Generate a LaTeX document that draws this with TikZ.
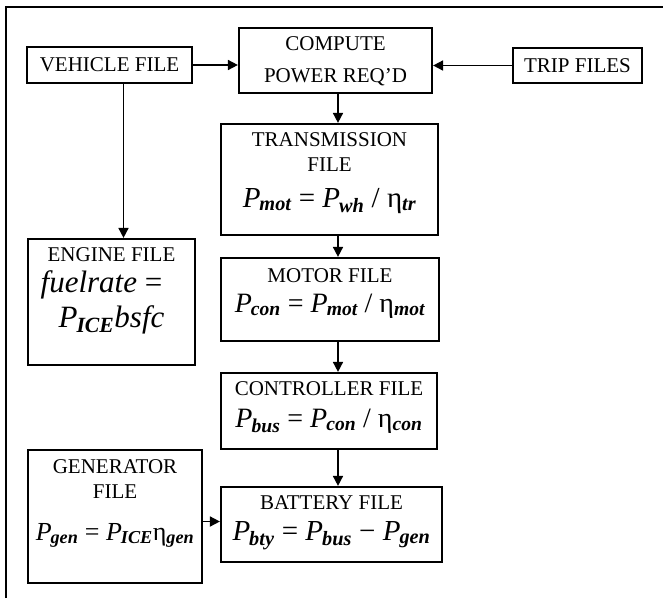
\documentclass[tikz,border=0pt]{standalone}
\usepackage{fontspec}
\setmainfont{Liberation Serif}
\usepackage{tikz}
\usetikzlibrary{arrows.meta,positioning,calc}

\newcommand{\sub}[1]{\textsubscript{\bfseries\itshape #1}}
\newcommand{\Pv}[1]{\textit{P}\kern-1pt\sub{#1}}
\newcommand{\eqsize}{\fontsize{29}{31}\selectfont}

\begin{document}
\begin{tikzpicture}[x=1pt,y=-1pt,
    file/.style={draw,line width=2.2pt,minimum width=#1,inner sep=0pt,align=center,
        font=\fontsize{21}{23}\selectfont},
    lines/.style={text depth=0pt,text height=#1},
    arr/.style={line width=1.7pt,-{Triangle[length=10pt,width=10pt]}},
    frame/.style={line width=2.7pt}
]
\useasboundingbox (0,0) rectangle (663,598);
\draw[frame] (6,598) -- (6,7) -- (663,7);

% top row
\node[file=165pt,minimum height=36pt] (vehicle) at (109.5,65) {VEHICLE FILE};
\node[file=193pt,minimum height=65pt,lines=43pt] (compute) at (335.5,60.5)
    {COMPUTE\\[9pt]POWER REQ'D};
\node[file=129pt,minimum height=35pt] (trip) at (577.5,65.5) {TRIP FILES};

% power chain
\node[file=217pt,minimum height=111pt,lines=55pt] (trans) at (329.5,179.5)
    {TRANSMISSION\\[2pt]FILE\\[13pt]{\eqsize\Pv{mot} = \Pv{wh} / η\sub{tr}}};
\node[file=218pt,minimum height=83pt,lines=25pt] (motor) at (330,299.5)
    {MOTOR FILE\\[7pt]{\fontsize{28}{30}\selectfont\Pv{con} = \Pv{mot} / η\sub{mot}}};
\node[file=216pt,minimum height=76pt,lines=32pt] (ctrl) at (329,411)
    {CONTROLLER FILE\\[9pt]{\fontsize{28}{30}\selectfont\Pv{bus} = \Pv{con} / η\sub{con}}};
\node[file=221pt,minimum height=75pt,lines=31pt] (batt) at (331.5,524.5)
    {BATTERY FILE\\[8pt]{\eqsize\Pv{bty} = \Pv{bus} − \Pv{gen}}};

% left column
\node[file=167pt,minimum height=126pt,lines=50pt] (engine) at (111.5,302)
    {ENGINE FILE\\[8pt]{\fontsize{31}{33}\selectfont\textit{fuelrate} =\kern20pt}\\[5pt]
     {\fontsize{31}{33}\selectfont\Pv{ICE}\textit{bsfc}}};
\node[file=174pt,minimum height=133pt,lines=47pt] (gen) at (115,516.5)
    {GENERATOR\\[2pt]FILE\\[19pt]{\fontsize{26}{28}\selectfont\Pv{gen} = \Pv{ICE}η\sub{gen}}};

\coordinate (spine) at (338,0);
\draw[arr] (vehicle.east) -- (vehicle.east -| compute.west);
\draw[arr] (trip.west) -- (trip.west -| compute.east);
\draw[arr] (spine |- compute.south) -- (spine |- trans.north);
\draw[arr] (spine |- trans.south) -- (spine |- motor.north);
\draw[arr] (spine |- motor.south) -- (spine |- ctrl.north);
\draw[arr] (spine |- ctrl.south) -- (spine |- batt.north);
\draw[arr] ([xshift=14pt]vehicle.south) -- ([xshift=14pt]vehicle.south |- engine.north);
\draw[arr] ([yshift=3pt]gen.east |- batt.west) -- ([yshift=3pt]batt.west);
\end{tikzpicture}
\end{document}
